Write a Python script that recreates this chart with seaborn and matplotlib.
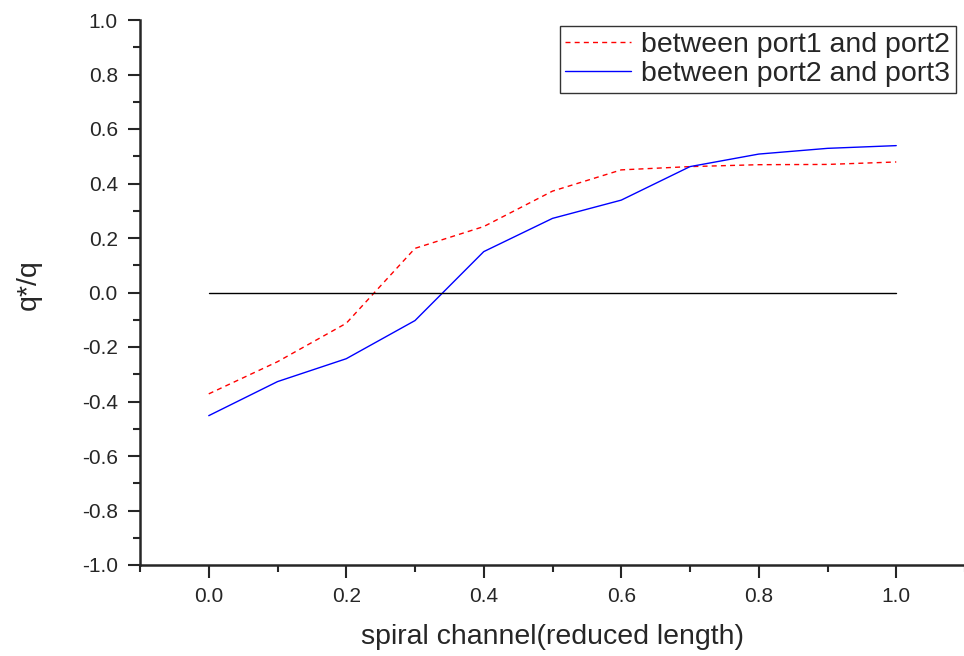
import matplotlib
matplotlib.use("Agg")
import matplotlib.pyplot as plt
import seaborn as sns
import pandas as pd
from matplotlib.ticker import MultipleLocator

x_vals = [0.0, 0.1, 0.2, 0.3, 0.4, 0.5, 0.6, 0.7, 0.8, 0.9, 1.0]
port12 = [-0.372, -0.254, -0.113, 0.162, 0.242, 0.372, 0.45, 0.462, 0.469, 0.47, 0.479]
port23 = [-0.452, -0.327, -0.243, -0.103, 0.150, 0.272, 0.339, 0.462, 0.508, 0.529, 0.539]
zero_x = [0.0, 1.0]
zero_y = [0.0, 0.0]
labels = ["between port1 and port2", "between port2 and port3"]
xticks = [0.0, 0.2, 0.4, 0.6, 0.8, 1.0]
yticks = [-1.0, -0.8, -0.6, -0.4, -0.2, 0.0, 0.2, 0.4, 0.6, 0.8, 1.0]

sns.set_style("ticks")
plt.rcParams['font.family'] = ['Liberation Sans', 'DejaVu Sans']

fig = plt.figure(figsize=(9.64, 6.56), dpi=100)
ax = fig.add_axes([140/964, 1 - 565/656, (965-140)/964, (565-20)/656])

df1 = pd.DataFrame({"x": x_vals, "y": port12})
df2 = pd.DataFrame({"x": x_vals, "y": port23})
sns.lineplot(data=df1, x="x", y="y", ax=ax, color="#ff0000", lw=1.0,
             linestyle=(0, (3.6, 3.0)), label=labels[0])
sns.lineplot(data=df2, x="x", y="y", ax=ax, color="#0000ff", lw=1.0,
             label=labels[1])
sns.lineplot(x=zero_x, y=zero_y, ax=ax, color="black", lw=1.0, legend=False)

ax.set_xlim(-0.1, 1.1)
ax.set_ylim(-1.0, 1.0)
ax.xaxis.set_minor_locator(MultipleLocator(0.1))
ax.yaxis.set_minor_locator(MultipleLocator(0.1))
ax.set_xticks(xticks)
ax.set_xticklabels([f"{v:.1f}" for v in xticks])
ax.set_yticks(yticks)
ax.set_yticklabels([f"{v:.1f}" for v in yticks])

for s in ["top", "right"]:
    ax.spines[s].set_visible(False)
for s in ["left", "bottom"]:
    ax.spines[s].set_linewidth(1.8)
ax.tick_params(which="major", direction="out", length=9, width=1.5, labelsize=15, pad=7)
ax.tick_params(which="minor", direction="out", length=5, width=1.5)

ax.set_xlabel("spiral channel(reduced length)", fontsize=20.5, labelpad=13)
ax.set_ylabel("q*/q", fontsize=20.5)
ax.yaxis.set_label_coords((42 - 140) / 825, (565 - 285) / 545)

leg = ax.legend(loc="upper right", bbox_to_anchor=(956/964, 1 - 26/656),
                bbox_transform=fig.transFigure, fontsize=20.5, frameon=True,
                fancybox=False, borderpad=0.2, handlelength=2.3,
                handletextpad=0.37, labelspacing=0.12, borderaxespad=0)
leg.get_frame().set_edgecolor("black")
leg.get_frame().set_linewidth(1.0)

fig.savefig("out.png", dpi=100)
